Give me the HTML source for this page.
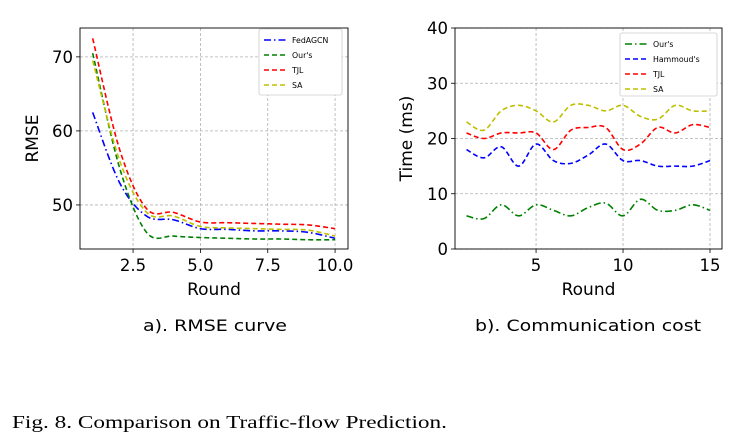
<!DOCTYPE html>
<html><head><meta charset="utf-8"><style>
body{margin:0;background:#fff}
svg{display:block}
text{font-family:"DejaVu Sans","Liberation Sans",sans-serif;fill:#000}
</style></head><body>
<svg id="fig" width="738" height="445">
<g id="left"></g>
<g id="right"></g>
<text x="215" y="331" font-size="16" text-anchor="middle" textLength="144" lengthAdjust="spacingAndGlyphs">a). RMSE curve</text>
<text x="588" y="331" font-size="16" text-anchor="middle" textLength="226" lengthAdjust="spacingAndGlyphs">b). Communication cost</text>
<text x="12" y="428" font-size="18" style="font-family:'Liberation Serif',serif" textLength="435" lengthAdjust="spacingAndGlyphs">Fig. 8.  Comparison on Traffic-flow Prediction.</text>
</svg>
<script>
const rmseRounds=[1,2,3,4,5,6,7,8,9,10];
const rmseFedAGCN=[62.5,53,48.5,48,46.8,46.7,46.5,46.5,46.3,45.5];
const rmseOurs=[70.5,55,46.3,45.8,45.6,45.5,45.4,45.4,45.3,45.3];
const rmseTJL=[72.5,57.5,49.5,49,47.7,47.6,47.5,47.4,47.3,46.8];
const rmseSA=[69.5,56,49,48.5,47.1,46.9,46.8,46.7,46.6,45.8];
const rmseXTicks=[2.5,5.0,7.5,10.0];
const rmseYTicks=[50,60,70];
const costRounds=[1,2,3,4,5,6,7,8,9,10,11,12,13,14,15];
const costOurs=[6,5.5,8,6,8,7,6,7.5,8.3,6,9,7,7,8,7];
const costHammoud=[18,16.5,18.5,15,19,16,15.5,17,19,16,16,15,15,15,16];
const costTJL=[21,20,21,21,21,18,21.5,22,22,18,19,22,21,22.5,22];
const costSA=[23,21.5,25,26,25,23,26,26,25,26,24,23.5,26,25,25];
const costXTicks=[5,10,15];
const costYTicks=[0,10,20,30,40];
const NS="http://www.w3.org/2000/svg";
function mk(p,t,a){const e=document.createElementNS(NS,t);for(const k in a)e.setAttribute(k,a[k]);p.appendChild(e);return e;}
function curve(xs,ys,sx,sy){
  const n=xs.length;let d="";
  for(let i=0;i<n-1;i++){
    const p0=i>0?i-1:i,p3=i+2<n?i+2:i+1;
    for(let s=0;s<=20;s++){const t=s/20;
      const f=(a,b,c,e)=>0.5*((2*b)+(-a+c)*t+(2*a-5*b+4*c-e)*t*t+(-a+3*b-3*c+e)*t*t*t);
      const x=f(xs[p0],xs[i],xs[i+1],xs[p3]),y=f(ys[p0],ys[i],ys[i+1],ys[p3]);
      d+=(d?"L":"M")+sx(x).toFixed(2)+","+sy(y).toFixed(2);}
  }
  return d;
}
function chart(g,o){
  const sx=v=>o.x0+(v-o.xmin)/(o.xmax-o.xmin)*(o.x1-o.x0);
  const sy=v=>o.y1-(v-o.ymin)/(o.ymax-o.ymin)*(o.y1-o.y0);
  o.xt.forEach(v=>{
    const l=mk(g,"line",{x1:sx(v),x2:sx(v),y1:o.y0,y2:o.y1,stroke:"#b0b0b0","stroke-width":0.8,"stroke-dasharray":"3,2"});
    
    
    mk(g,"line",{x1:sx(v),x2:sx(v),y1:o.y1,y2:o.y1+4,stroke:"#000","stroke-width":0.8});
    const t=mk(g,"text",{x:sx(v),y:o.y1+22,"font-size":16.5,"text-anchor":"middle"});t.textContent=o.xf(v);
    
    
  });
  o.yt.forEach(v=>{
    const l=mk(g,"line",{x1:o.x0,x2:o.x1,y1:sy(v),y2:sy(v),stroke:"#b0b0b0","stroke-width":0.8,"stroke-dasharray":"3,2"});
    
    
    mk(g,"line",{x1:o.x0-4,x2:o.x0,y1:sy(v),y2:sy(v),stroke:"#000","stroke-width":0.8});
    const t=mk(g,"text",{x:o.x0-7,y:sy(v)+6,"font-size":16.5,"text-anchor":"end"});t.textContent=v;
    
    
  });
  o.series.forEach(s=>{
    const p=mk(g,"path",{d:curve(o.xs,s.v,sx,sy),fill:"none",stroke:s.c,"stroke-width":1.6,"stroke-dasharray":s.dash});
    
    
  });
  const fr=mk(g,"rect",{x:o.x0,y:o.y0,width:o.x1-o.x0,height:o.y1-o.y0,fill:"none",stroke:"#000","stroke-width":0.9});
  
  
  const xl=mk(g,"text",{x:(o.x0+o.x1)/2,y:o.y1+46,"font-size":17,"text-anchor":"middle"});xl.textContent="Round";
  
  
  const yl=mk(g,"text",{x:0,y:0,"font-size":17,"text-anchor":"middle",transform:`translate(${o.ylx},${(o.y0+o.y1)/2}) rotate(-90)`});yl.textContent=o.ylabel;
  
  
  const L=o.leg;
  const lb=mk(g,"rect",{x:L.x,y:L.y,width:L.w,height:L.h,fill:"#fff",stroke:"#ccc","stroke-width":0.8,rx:2});
  
  
  o.series.forEach((s,i)=>{
    const yy=L.y+11+i*15;
    mk(g,"line",{x1:L.x+5,x2:L.x+27,y1:yy,y2:yy,stroke:s.c,"stroke-width":1.6,"stroke-dasharray":s.dash});
    const t=mk(g,"text",{x:L.x+33,y:yy+3,"font-size":7.8});t.textContent=s.n;
    
    
  });
}
chart(document.getElementById("left"),{x0:80,x1:348,y0:28,y1:249,xmin:0.53,xmax:10.48,ymin:44.05,ymax:73.9,
  xt:rmseXTicks,yt:rmseYTicks,xf:v=>v.toFixed(1),xs:rmseRounds,ylabel:"RMSE",ylx:38,
  leg:{x:259,y:29,w:83,h:66},
  series:[{id:"fedagcn",n:"FedAGCN",v:rmseFedAGCN,c:"#0000ff",dash:"7,3,1.5,3"},
          {id:"ours",n:"Our's",v:rmseOurs,c:"#008000",dash:"5,3"},
          {id:"tjl",n:"TJL",v:rmseTJL,c:"#ff0000",dash:"5,3"},
          {id:"sa",n:"SA",v:rmseSA,c:"#bfbf00",dash:"5,3"}]});
chart(document.getElementById("right"),{x0:455,x1:722,y0:28,y1:249,xmin:0.34,xmax:15.69,ymin:0,ymax:40,
  xt:costXTicks,yt:costYTicks,xf:v=>v,xs:costRounds,ylabel:"Time (ms)",ylx:412,
  leg:{x:620,y:33,w:97,h:63},
  series:[{id:"ours",n:"Our's",v:costOurs,c:"#008000",dash:"7,3,1.5,3"},
          {id:"hammoud",n:"Hammoud's",v:costHammoud,c:"#0000ff",dash:"5,3"},
          {id:"tjl",n:"TJL",v:costTJL,c:"#ff0000",dash:"5,3"},
          {id:"sa",n:"SA",v:costSA,c:"#bfbf00",dash:"5,3"}]});
</script>
</body></html>
